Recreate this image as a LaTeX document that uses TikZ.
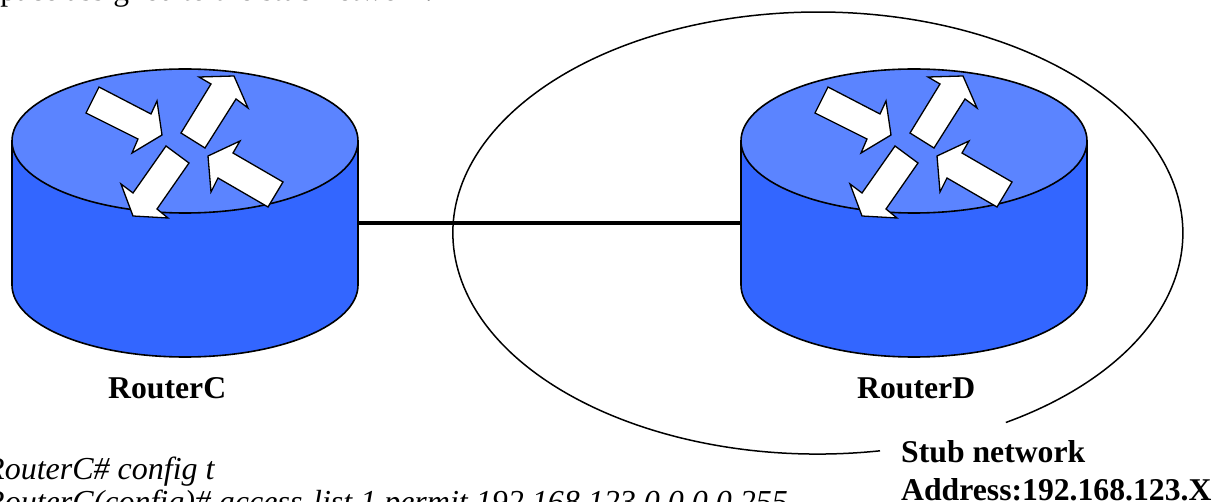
\documentclass[tikz,border=0pt]{standalone}
\usepackage{fontspec}
\setmainfont{Liberation Serif}
\usepackage{xcolor}
\definecolor{toptone}{HTML}{5B84FF}
\definecolor{sidetone}{HTML}{3366FF}
\usetikzlibrary{positioning}
\newcommand{\bigtext}{\fontsize{31.7}{38}\selectfont}
\newcommand{\cmdtext}{\fontsize{32}{33}\selectfont}
\newcommand{\routerdrum}[1]{%
  \begin{scope}[shift={(#1,0)}]
    \path[draw = black, line width = 1.6pt, fill = sidetone] (12,141) -- (12,285)
      arc[start angle = 180, end angle = 0, x radius = 173, y radius = 72]
      -- (358,141) -- cycle;
    \path[draw = black, line width = 1.6pt, fill = toptone] (185,141) ellipse [x radius = 173, y radius = 72];
    \path[flick] (99,87) -- (151,114) -- (157,101) -- (162,135) -- (132,153) -- (138,139) -- (86,113) -- cycle;
    \path[flick] (181,133) -- (211,84) -- (199,77) -- (234,76) -- (248,108) -- (236,99) -- (205,148) -- cycle;
    \path[flick] (283,182) -- (233,153) -- (240,141) -- (208,156) -- (211,192) -- (218,178) -- (268,207) -- cycle;
    \path[flick] (166,146) -- (133,193) -- (121,184) -- (133,216) -- (168,218) -- (157,209) -- (189,163) -- cycle;
  \end{scope}}
\tikzset{
  flick/.style = {draw = black, line width = 1.3pt, fill = white, line join = miter},
  tag/.style = {font = \bigtext\bfseries, inner sep = 0pt, anchor = base west},
  cmd/.style = {font = \cmdtext\itshape, inner sep = 0pt, anchor = base west}
}
\begin{document}
\begin{tikzpicture}[x = 1pt, y = -1pt]
  \useasboundingbox (0,0) rectangle (1217,502);
  \clip (0,0) rectangle (1217,502);
  \node[anchor = base west, inner sep = 0pt, font = \fontsize{31.5}{38}\selectfont] (head) at (-12,1) {space assigned to the stub network.};
  % stub network outline, open below the text
  \coordinate (openL) at (880,450.8);
  \path[draw = black, line width = 1.5pt] (openL)
    arc[start angle = 80.2, end angle = 419, x radius = 365, y radius = 221];
  \coordinate (railC) at (358,223);
  \coordinate (railD) at (741,223);
  \draw[line width = 4.2pt] (railC) -- (railD);
  \routerdrum{0}
  \routerdrum{729}
  \node[tag] (routerC) at (108,398) {RouterC};
  \node[tag] (routerD) at (857,398) {RouterD};
  \node[tag] (stub) at (901,462) {Stub network};
  \node[tag] (addr) at (901,500) {Address:192.168.123.X};
  \node[cmd] (cmdA) at (-15,479) {RouterC\# config t};
  \node[cmd] (cmdB) at (-15,512) {RouterC(config)\# access-list 1 permit 192.168.123.0 0.0.0.255};
\end{tikzpicture}
\end{document}
